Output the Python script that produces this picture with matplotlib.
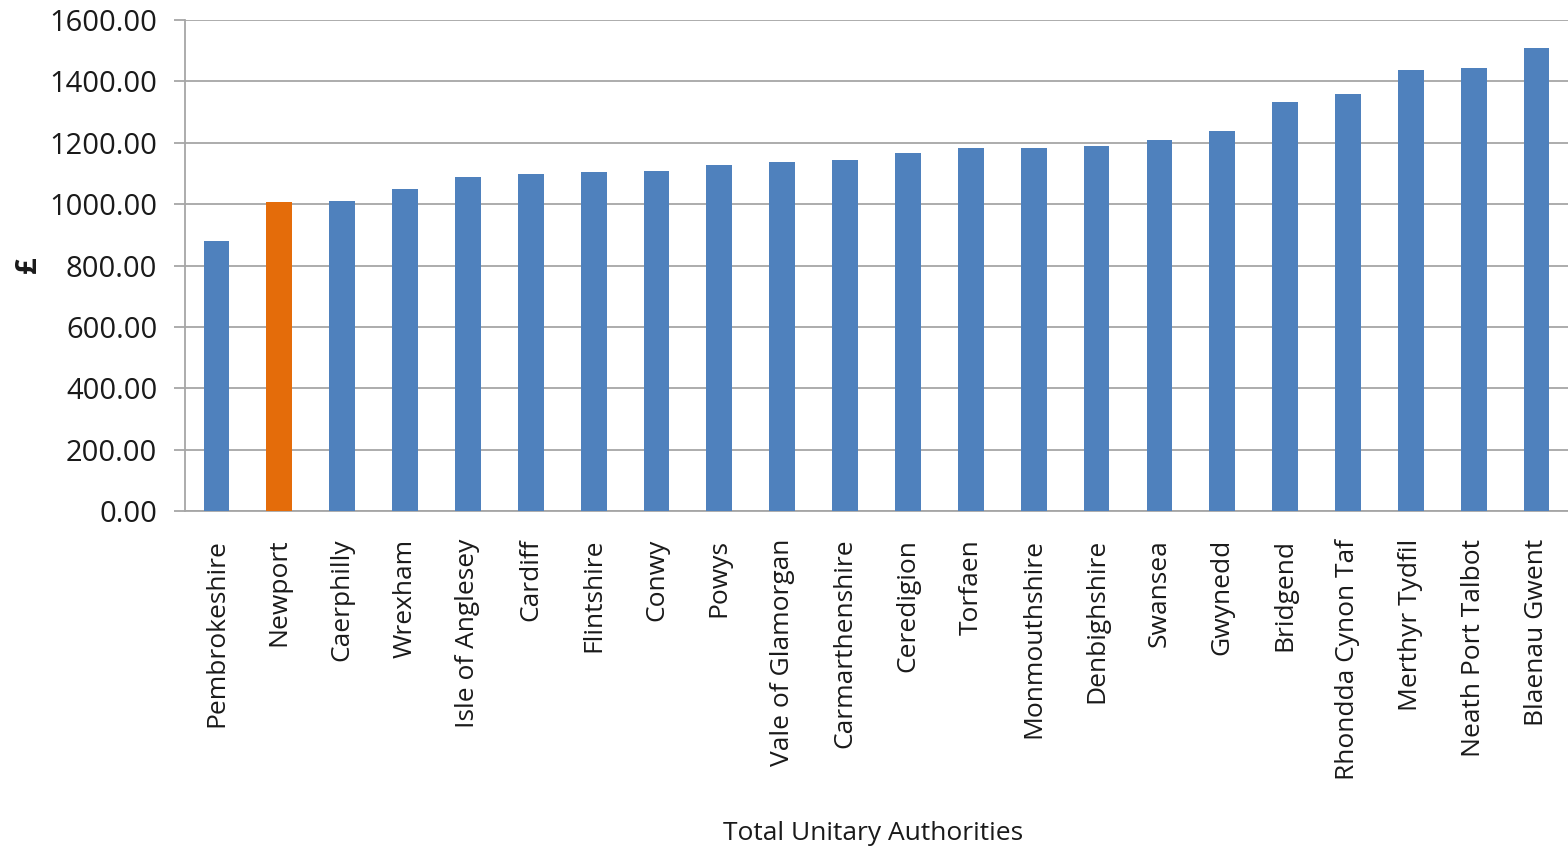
import matplotlib.pyplot as plt
import numpy as np

authorities = ["Pembrokeshire", "Newport", "Caerphilly", "Wrexham", "Isle of Anglesey",
               "Cardiff", "Flintshire", "Conwy", "Powys", "Vale of Glamorgan",
               "Carmarthenshire", "Ceredigion", "Torfaen", "Monmouthshire", "Denbighshire",
               "Swansea", "Gwynedd", "Bridgend", "Rhondda Cynon Taf", "Merthyr Tydfil",
               "Neath Port Talbot", "Blaenau Gwent"]
amounts = [880, 1008, 1009, 1049, 1088, 1098, 1105, 1108, 1127, 1137, 1144,
           1166, 1183, 1183, 1189, 1209, 1238, 1333, 1359, 1437, 1443, 1509]
highlight = "Newport"

plt.rcParams['font.family'] = ['Open Sans', 'DejaVu Sans']
text_col = '#1a1a1a'
grid_col = '#a6a6a6'

fig = plt.figure(figsize=(15.68, 8.51), dpi=100)
ax = fig.add_axes([0.118, 0.3995, 0.882, 0.577])

x = np.arange(len(authorities))
colors = ['#E46C0A' if a == highlight else '#4F81BD' for a in authorities]
ax.bar(x, amounts, width=0.41, color=colors, zorder=3)

ax.set_xlim(-0.5, len(authorities) - 0.5)
ax.set_ylim(0, 1600)
yticks = np.arange(0, 1601, 200)
ax.set_yticks(yticks)
ax.set_yticklabels([f"{v:.2f}" for v in yticks], fontsize=21, color=text_col)
ax.set_xticks(x)
ax.set_xticklabels(authorities, rotation=90, fontsize=19, color=text_col)
ax.tick_params(axis='x', length=0, pad=20)
ax.tick_params(axis='y', length=8, width=1.3, color=grid_col, pad=12)

ax.grid(axis='y', color=grid_col, linewidth=1.3, zorder=0)
for side in ['top', 'right']:
    ax.spines[side].set_visible(False)
for side in ['left', 'bottom']:
    ax.spines[side].set_color(grid_col)
    ax.spines[side].set_linewidth(1.3)

# axis titles placed directly in figure coordinates
fig.text(0.018, 0.689, "£", rotation=90, fontsize=21, fontweight='bold',
         color=text_col, ha='center', va='center')
fig.text(0.557, 0.021, "Total Unitary Authorities", fontsize=19,
         color=text_col, ha='center', va='center')

fig.savefig("out.png", dpi=100)
